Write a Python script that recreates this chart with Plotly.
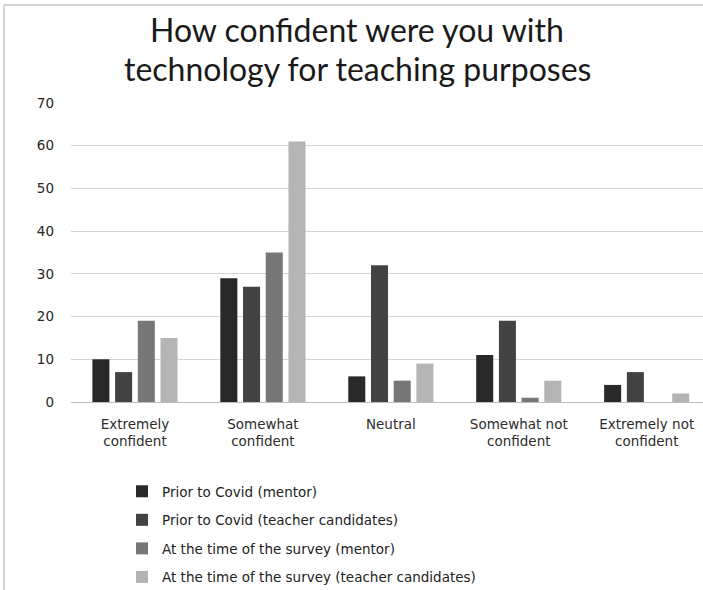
import plotly.graph_objects as go

categories = ["Extremely<br>confident", "Somewhat<br>confident", "Neutral",
              "Somewhat not<br>confident", "Extremely not<br>confident"]
series_names = ["Prior to Covid (mentor)",
                "Prior to Covid (teacher candidates)",
                "At the time of the survey (mentor)",
                "At the time of the survey (teacher candidates)"]
prior_mentor = [10, 29, 6, 11, 4]
prior_candidates = [7, 27, 32, 19, 7]
survey_mentor = [19, 35, 5, 1, 0]
survey_candidates = [15, 61, 9, 5, 2]
y_ticks = [0, 10, 20, 30, 40, 50, 60, 70]
title_lines = ["How confident were you with", "technology for teaching purposes"]

colors = ["#292929", "#434343", "#777777", "#b4b4b4"]
values = [prior_mentor, prior_candidates, survey_mentor, survey_candidates]

W, H = 703, 590
L, R, T, B = 71, 0, 103, 188
pw, ph = W - L - R, H - T - B

fig = go.Figure()
for i, (name, vals) in enumerate(zip(series_names, values)):
    fig.add_trace(go.Bar(
        x=list(range(len(categories))), y=vals, name=name,
        marker=dict(color=colors[i], line=dict(width=0)),
        legendgroup=f"g{i}",
    ))

def px_x(p):
    return (p - L) / pw

def px_y(p):
    return (H - B - p) / ph

fig.update_layout(
    width=W, height=H,
    margin=dict(l=L, r=R, t=T, b=B, autoexpand=False),
    paper_bgcolor="white", plot_bgcolor="white",
    barmode="group", bargap=0.29, bargroupgap=0.25,
    font=dict(family="DejaVu Sans", size=13, color="#3a3a3a"),
    xaxis=dict(
        range=[-0.5, 4.44], tickvals=list(range(len(categories))),
        ticktext=categories, showgrid=False, zeroline=False,
        showline=False, ticks="", ticklen=0, ticklabelstandoff=12,
        tickfont=dict(family="DejaVu Sans", size=13.5, color="#2c2c2c"),
        fixedrange=True,
    ),
    yaxis=dict(
        range=[0, 70], tickvals=y_ticks, showgrid=True,
        gridcolor="#d4d4d4", gridwidth=1.3, zeroline=True,
        zerolinecolor="#bdbdbd", zerolinewidth=1.3, showline=False,
        ticks="", ticklabelstandoff=16,
        tickfont=dict(family="DejaVu Sans", size=13.5, color="#262626"),
    ),
    legend=dict(
        x=px_x(122), y=px_y(476), xanchor="left", yanchor="top",
        orientation="v", traceorder="grouped", tracegroupgap=8,
        font=dict(family="DejaVu Sans", size=13.5, color="#222222"),
        bgcolor="rgba(0,0,0,0)",
    ),
    showlegend=True,
)

# title, one annotation per line
for k, (line, yc) in enumerate(zip(title_lines, [30, 68])):
    fig.add_annotation(
        text=line, xref="paper", yref="paper",
        x=px_x(357), y=px_y(yc), xanchor="center", yanchor="middle",
        showarrow=False,
        font=dict(family="Lato", size=32, color="#1a1a1a"),
    )

# chart frame (left and top edges visible in the crop)
fig.add_shape(type="line", xref="paper", yref="paper",
              x0=px_x(4), x1=px_x(W + 5), y0=px_y(5), y1=px_y(5),
              line=dict(color="#c4c4c4", width=1.5))
fig.add_shape(type="line", xref="paper", yref="paper",
              x0=px_x(4), x1=px_x(4), y0=px_y(5), y1=px_y(H + 5),
              line=dict(color="#c4c4c4", width=1.5))

fig.write_html("out.html")
